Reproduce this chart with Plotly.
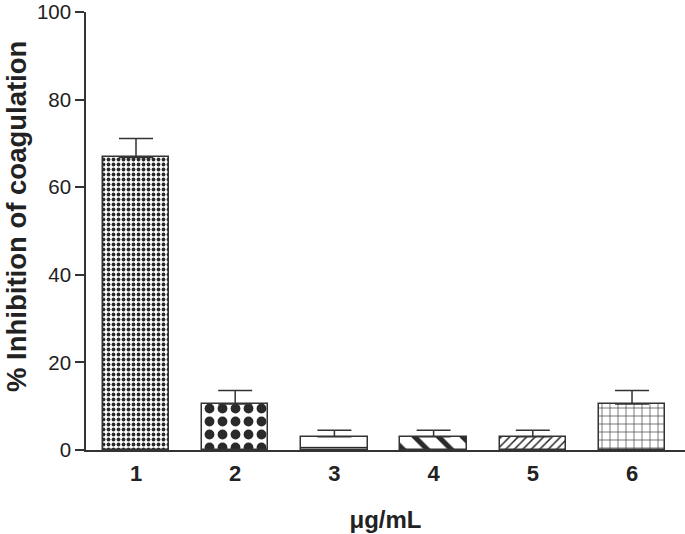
import plotly.graph_objects as go

categories = [1, 2, 3, 4, 5, 6]
tick_labels = ["1", "2", "3", "4", "5", "6"]
values = [66.8, 10.5, 3.0, 3.0, 3.0, 10.5]
errors = [4.3, 3.1, 1.5, 1.5, 1.5, 3.1]
y_title = "% Inhibition of coagulation"
x_title = "μg/mL"

shapes = [".", ".", "-", "\\", "/", "+"]
sizes = [5, 13, 13, 17, 6, 8]
solidity = [0.45, 0.45, 0.1, 0.3, 0.25, 0.15]

fig = go.Figure()
for i, c in enumerate(categories):
    fig.add_trace(go.Bar(
        x=[c], y=[values[i]],
        width=0.67,
        marker=dict(color="white", line=dict(color="#333333", width=1.5),
                    pattern=dict(shape=shapes[i], size=sizes[i], solidity=solidity[i],
                                 fgcolor="#2a2a2a", bgcolor="white", fillmode="replace")),
        error_y=dict(type="data", symmetric=False, array=[errors[i]], arrayminus=[0],
                     color="#333333", thickness=1.5, width=17),
        showlegend=False,
    ))

fig.update_layout(
    width=685, height=534,
    margin=dict(l=86, r=0, t=12, b=84),
    plot_bgcolor="white", paper_bgcolor="white",
    font=dict(family="Liberation Sans, Arial, sans-serif", color="#222222"),
    bargap=0,
    annotations=[dict(
        text=y_title, textangle=-90, showarrow=False,
        xref="paper", yref="paper", x=(17 - 86) / 599, y=(450 - 217) / 438,
        xanchor="center", yanchor="middle",
        font=dict(size=27.5, weight="bold", color="#222222"),
    )],
)
fig.update_xaxes(
    range=[0.496, 6.534], tickvals=categories, ticktext=tick_labels,
    showline=True, linecolor="#333333", linewidth=1.5,
    ticks="outside", ticklen=3, tickcolor="rgba(0,0,0,0)", showgrid=False,
    zeroline=False, tickfont=dict(size=22, weight="bold"), automargin=False,
    ticklabeloverflow="allow",
    title=dict(text=x_title, font=dict(size=24, weight="bold"), standoff=26),
)
fig.update_yaxes(
    range=[0, 100], tickvals=[0, 20, 40, 60, 80, 100],
    showline=True, linecolor="#333333", linewidth=1.5, ticks="outside", ticklen=9,
    tickcolor="#333333", tickwidth=1.5, showgrid=False, zeroline=False,
    tickfont=dict(size=20.5), automargin=False, ticklabeloverflow="allow",
)
fig.write_html("out.html", config={"displayModeBar": False},
               post_script="document.body.style.margin='0';document.body.style.padding='0';")
